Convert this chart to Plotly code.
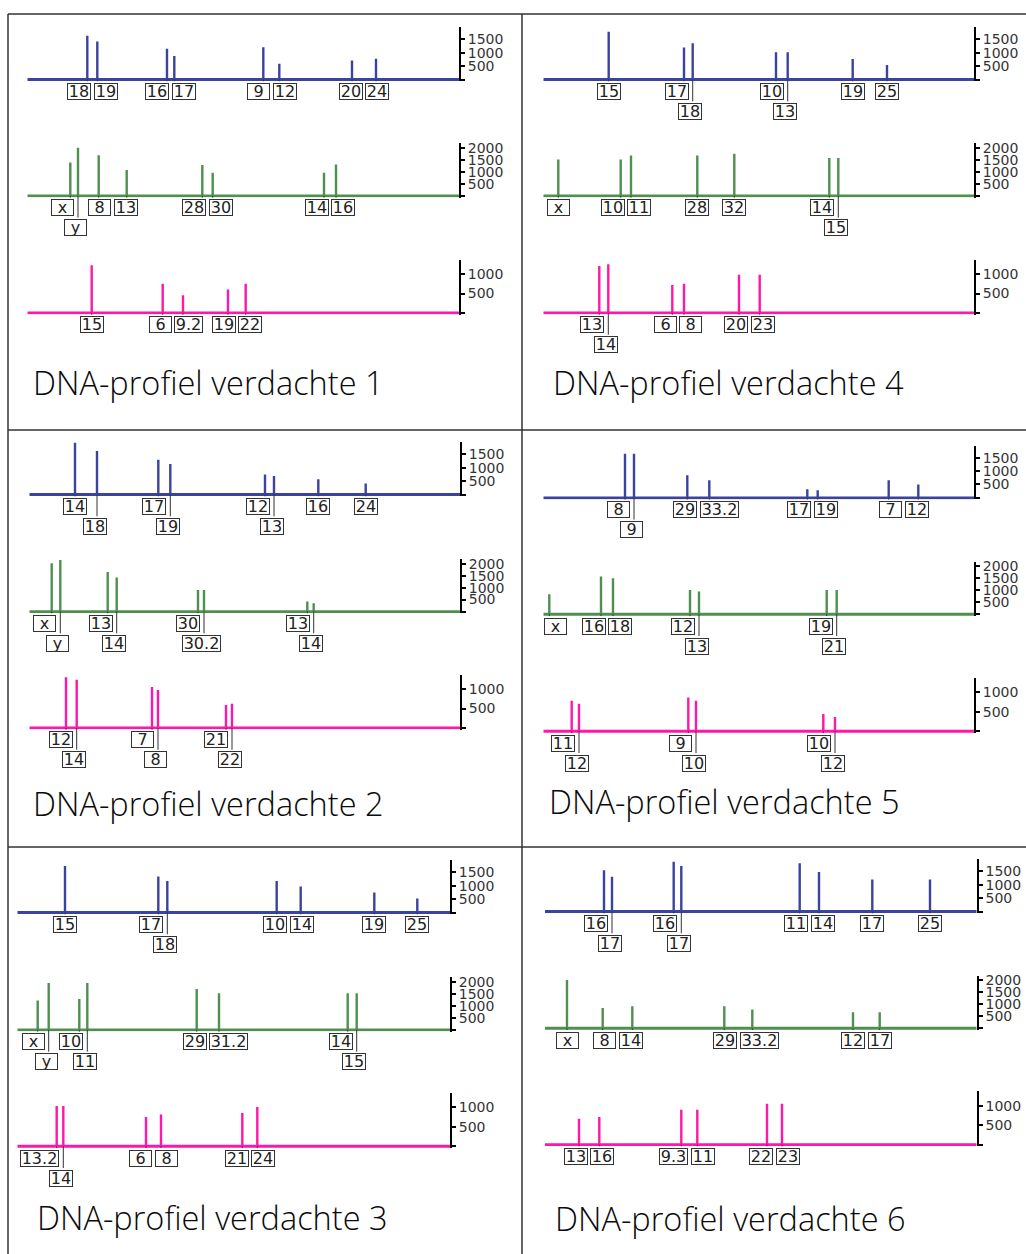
import math
import plotly.graph_objects as go

W, H = 1026, 1254

# ----------------------------------------------------------------- data
# Per suspect and dye: allele labels, fragment position along the trace (size units)
# and peak height (RFU), grouped per locus.
S1_BLUE_ALLELES  = [["18", "19"], ["16", "17"], ["9", "12"], ["20", "24"]]
S1_BLUE_SIZES    = [[60, 70], [139.7, 147], [236, 252], [324.7, 348.7]]
S1_BLUE_HEIGHTS  = [[1640, 1418], [1147, 876], [1210, 592], [715, 777]]
S1_GREEN_ALLELES = [["x", "y"], ["8", "13"], ["28", "30"], ["14", "16"]]
S1_GREEN_SIZES   = [[43, 50.7], [71.4, 99.4], [175, 185.4], [296.7, 308.7]]
S1_GREEN_HEIGHTS = [[1395, 2005], [1700, 1080], [1287, 967], [967, 1311]]
S1_PINK_ALLELES  = [["15"], ["6", "9.2"], ["19", "22"]]
S1_PINK_SIZES    = [[64.4], [135.4, 155.7], [200.7, 218.4]]
S1_PINK_HEIGHTS  = [[1225], [750, 457], [605, 750]]

S2_BLUE_ALLELES  = [["14", "18"], ["17", "19"], ["12", "13"], ["16"], ["24"]]
S2_BLUE_SIZES    = [[45.7, 67.7], [129, 141], [235.7, 244.7], [289], [336.4]]
S2_BLUE_HEIGHTS  = [[1950, 1630], [1305, 1145], [746, 697], [574], [410]]
S2_GREEN_ALLELES = [["x", "y"], ["13", "14"], ["30", "30.2"], ["13", "14"]]
S2_GREEN_SIZES   = [[22.4, 31], [78.4, 87.4], [168.7, 174.7], [278, 284.4]]
S2_GREEN_HEIGHTS = [[2015, 2155], [1655, 1418], [905, 905], [417, 346]]
S2_PINK_ALLELES  = [["12", "14"], ["7", "8"], ["21", "22"]]
S2_PINK_SIZES    = [[36.7, 47.4], [122.7, 128.7], [196.7, 202.7]]
S2_PINK_HEIGHTS  = [[1306, 1239], [1050, 973], [589, 625]]

S3_BLUE_ALLELES  = [["15"], ["17", "18"], ["10", "14"], ["19"], ["25"]]
S3_BLUE_SIZES    = [[47.7], [141, 150], [259.4, 283.4], [357], [400]]
S3_BLUE_HEIGHTS  = [[1742], [1343, 1182], [1182, 970], [746], [522]]
S3_GREEN_ALLELES = [["x", "y"], ["10", "11"], ["29", "31.2"], ["14", "15"]]
S3_GREEN_SIZES   = [[20.4, 31.4], [62, 70], [179.4, 201.7], [330.4, 339.4]]
S3_GREEN_HEIGHTS = [[1222, 1960], [1292, 1960], [1710, 1526], [1526, 1526]]
S3_PINK_ALLELES  = [["13.2", "14"], ["6", "8"], ["21", "24"]]
S3_PINK_SIZES    = [[39.4, 46], [128.7, 143.7], [225, 240]]
S3_PINK_HEIGHTS  = [[1032, 1032], [750, 819], [852, 1006]]

S4_BLUE_ALLELES  = [["15"], ["17", "18"], ["10", "13"], ["19"], ["25"]]
S4_BLUE_SIZES    = [[65.4], [140.7, 149.4], [232.7, 244.4], [309.4], [343.7]]
S4_BLUE_HEIGHTS  = [[1790], [1200, 1357], [1024, 1024], [765], [544]]
S4_GREEN_ALLELES = [["x"], ["10", "11"], ["28"], ["32"], ["14", "15"]]
S4_GREEN_SIZES   = [[15], [77.4, 87.7], [154], [191], [286, 295]]
S4_GREEN_HEIGHTS = [[1520], [1520, 1685], [1685], [1755], [1577, 1577]]
S4_PINK_ALLELES  = [["13", "14"], ["6", "8"], ["20", "23"]]
S4_PINK_SIZES    = [[56, 65], [129, 140.7], [195.7, 216.4]]
S4_PINK_HEIGHTS  = [[1207, 1251], [716, 750], [982, 982]]

S5_BLUE_ALLELES  = [["8", "9"], ["29", "33.2"], ["17", "19"], ["7", "12"]]
S5_BLUE_SIZES    = [[81.7, 90.7], [144, 166], [264, 274.4], [345.4, 375]]
S5_BLUE_HEIGHTS  = [[1652, 1652], [847, 660], [324, 287], [660, 496]]
S5_GREEN_ALLELES = [["x"], ["16", "18"], ["12", "13"], ["19", "21"]]
S5_GREEN_SIZES   = [[6], [57.7, 69.7], [146.7, 155.7], [283.4, 293.4]]
S5_GREEN_HEIGHTS = [[834], [1572, 1500], [1017, 946], [1017, 1017]]
S5_PINK_ALLELES  = [["11", "12"], ["9", "10"], ["10", "12"]]
S5_PINK_SIZES    = [[28.4, 35.7], [145, 152.7], [280, 291.7]]
S5_PINK_HEIGHTS  = [[786, 709], [870, 786], [443, 366]]

S6_BLUE_ALLELES  = [["16", "17"], ["16", "17"], ["11", "14"], ["17"], ["25"]]
S6_BLUE_SIZES    = [[59, 67], [128.7, 136.3], [254.7, 274], [327.3], [385]]
S6_BLUE_HEIGHTS  = [[1545, 1305], [1865, 1705], [1805, 1480], [1194], [1194]]
S6_GREEN_ALLELES = [["x"], ["8", "14"], ["29", "33.2"], ["12", "17"]]
S6_GREEN_SIZES   = [[22], [57.7, 87.3], [179.3, 207.3], [308, 334.7]]
S6_GREEN_HEIGHTS = [[2018], [850, 917], [917, 780], [667, 667]]
S6_PINK_ALLELES  = [["13", "16"], ["9.3", "11"], ["22", "23"]]
S6_PINK_SIZES    = [[34, 54.3], [136.3, 152.3], [222, 237]]
S6_PINK_HEIGHTS  = [[666, 707], [896, 896], [1050, 1050]]

CAPTION_PREFIX = "DNA-profiel verdachte"
SUSPECTS = [1, 2, 3, 4, 5, 6]
DYES = ["blue", "green", "pink"]
Y_TICKS = {"blue": [0, 500, 1000, 1500],
           "green": [0, 500, 1000, 1500, 2000],
           "pink": [0, 500, 1000]}

DATA = {
    (1, "blue"): (S1_BLUE_ALLELES, S1_BLUE_SIZES, S1_BLUE_HEIGHTS),
    (1, "green"): (S1_GREEN_ALLELES, S1_GREEN_SIZES, S1_GREEN_HEIGHTS),
    (1, "pink"): (S1_PINK_ALLELES, S1_PINK_SIZES, S1_PINK_HEIGHTS),
    (2, "blue"): (S2_BLUE_ALLELES, S2_BLUE_SIZES, S2_BLUE_HEIGHTS),
    (2, "green"): (S2_GREEN_ALLELES, S2_GREEN_SIZES, S2_GREEN_HEIGHTS),
    (2, "pink"): (S2_PINK_ALLELES, S2_PINK_SIZES, S2_PINK_HEIGHTS),
    (3, "blue"): (S3_BLUE_ALLELES, S3_BLUE_SIZES, S3_BLUE_HEIGHTS),
    (3, "green"): (S3_GREEN_ALLELES, S3_GREEN_SIZES, S3_GREEN_HEIGHTS),
    (3, "pink"): (S3_PINK_ALLELES, S3_PINK_SIZES, S3_PINK_HEIGHTS),
    (4, "blue"): (S4_BLUE_ALLELES, S4_BLUE_SIZES, S4_BLUE_HEIGHTS),
    (4, "green"): (S4_GREEN_ALLELES, S4_GREEN_SIZES, S4_GREEN_HEIGHTS),
    (4, "pink"): (S4_PINK_ALLELES, S4_PINK_SIZES, S4_PINK_HEIGHTS),
    (5, "blue"): (S5_BLUE_ALLELES, S5_BLUE_SIZES, S5_BLUE_HEIGHTS),
    (5, "green"): (S5_GREEN_ALLELES, S5_GREEN_SIZES, S5_GREEN_HEIGHTS),
    (5, "pink"): (S5_PINK_ALLELES, S5_PINK_SIZES, S5_PINK_HEIGHTS),
    (6, "blue"): (S6_BLUE_ALLELES, S6_BLUE_SIZES, S6_BLUE_HEIGHTS),
    (6, "green"): (S6_GREEN_ALLELES, S6_GREEN_SIZES, S6_GREEN_HEIGHTS),
    (6, "pink"): (S6_PINK_ALLELES, S6_PINK_SIZES, S6_PINK_HEIGHTS),
}

# ----------------------------------------------------------------- layout / style
PANEL_LAYOUT = {
    1: dict(x0=27.3, x1=459.0, base=[76.7, 193.3, 310.7], cap=(30.7, 380.5)),
    2: dict(x0=29.3, x1=460.0, base=[492.7, 610.0, 726.7], cap=(30.7, 802.0)),
    3: dict(x0=17.3, x1=450.0, base=[911.7, 1029.3, 1146.0], cap=(35.0, 1217.5)),
    4: dict(x0=543.3, x1=974.0, base=[76.7, 193.3, 310.7], cap=(550.7, 380.5)),
    5: dict(x0=543.3, x1=974.0, base=[496.0, 612.7, 730.0], cap=(546.7, 800.5)),
    6: dict(x0=545.0, x1=976.7, base=[910.7, 1027.7, 1144.3], cap=(552.7, 1218.0)),
}
# loci whose second label sits on a lower row
STAGGER = {
    (1, "green"): [0],
    (2, "blue"): [0, 1, 2], (2, "green"): [0, 1, 2, 3], (2, "pink"): [0, 1, 2],
    (3, "blue"): [1], (3, "green"): [0, 1, 3], (3, "pink"): [0],
    (4, "blue"): [1, 2], (4, "green"): [4], (4, "pink"): [0],
    (5, "blue"): [0], (5, "green"): [2, 3], (5, "pink"): [0, 1, 2],
    (6, "blue"): [0, 1],
}
COLORS = {"blue": "#3b43a0", "green": "#4f8f4f", "pink": "#ff17a7"}
UNITS_PER_PX = {"blue": 500 / 13.4, "green": 500 / 12.0, "pink": 500 / 19.5}
YRANGE = {"blue": (-62, 1950), "green": (-70, 2200), "pink": (-42, 1370)}

LBL_FS = 16
LBL_FONT = "DejaVu Sans"
BOX_H = 15
GAP0, GAP1 = 3.3, 23.3


def text_w(t):
    em = {".": 0.318, "x": 0.592, "y": 0.592}
    return sum(em.get(c, 0.636) for c in t) * LBL_FS


def inner_w(t):
    return max(21, math.ceil(text_w(t)) + 1)


def outer_w(t):
    return inner_w(t) + 2


def place(alleles, sizes, staggered):
    if len(alleles) == 1:
        w = outer_w(alleles[0])
        return [(max(sizes[0], w / 2 + 1), 0)]
    p1, p2 = sizes
    w1, w2 = outer_w(alleles[0]), outer_w(alleles[1])
    if staggered:
        c1 = min(p1, p2 - 4 - w1 / 2)
        c2 = p2 - 2.5
        res = [(c1, 0), (c2, 1)]
    else:
        m = (p1 + p2) / 2
        res = [(m - 1.25 - w1 / 2, 0), (m + 1.25 + w2 / 2, 0)]
    c1 = max(res[0][0], w1 / 2 + 1)
    return [(c1, res[0][1]), res[1]]


fig = go.Figure()
layout = {}
annotations = []
n = 0
for s in SUSPECTS:
    pl = PANEL_LAYOUT[s]
    L = pl["x1"] - pl["x0"]
    for di, dye in enumerate(DYES):
        n += 1
        xa = "x" if n == 1 else "x%d" % n
        ya = "y" if n == 1 else "y%d" % n
        upp = UNITS_PER_PX[dye]
        r0, r1 = YRANGE[dye]
        base = pl["base"][di]
        bot_px = base + (-r0) / upp
        top_px = base - r1 / upp
        layout["xaxis" if n == 1 else "xaxis%d" % n] = dict(
            domain=[pl["x0"] / W, pl["x1"] / W], range=[0, L], visible=False,
            anchor=ya, fixedrange=True)
        tv = Y_TICKS[dye]
        layout["yaxis" if n == 1 else "yaxis%d" % n] = dict(
            domain=[1 - bot_px / H, 1 - top_px / H], range=[r0, r1], anchor=xa,
            side="right", showline=True, linecolor="black", linewidth=2,
            ticks="outside", ticklen=4, tickwidth=2, tickcolor="black",
            tickvals=tv, ticktext=["" if v == 0 else str(v) for v in tv],
            tickfont=dict(family="DejaVu Sans", size=14, color="#333"),
            showgrid=False, zeroline=False, fixedrange=True)

        alleles, sizes, heights = DATA[(s, dye)]
        # baseline
        fig.add_trace(go.Scatter(x=[0, L], y=[0, 0], mode="lines",
                                 line=dict(color=COLORS[dye], width=2.8),
                                 xaxis=xa, yaxis=ya, hoverinfo="skip", showlegend=False))
        px, py = [], []
        for loc_s, loc_h in zip(sizes, heights):
            for p, h in zip(loc_s, loc_h):
                px += [p, p, None]
                py += [0, h, None]
        fig.add_trace(go.Scatter(x=px, y=py, mode="lines",
                                 line=dict(color=COLORS[dye], width=2.4),
                                 xaxis=xa, yaxis=ya, hoverinfo="skip", showlegend=False))
        stag = STAGGER.get((s, dye), [])
        for li, (loc_a, loc_s) in enumerate(zip(alleles, sizes)):
            for (c, tier), a, p in zip(place(loc_a, loc_s, li in stag), loc_a, loc_s):
                gap = GAP0 if tier == 0 else GAP1
                annotations.append(dict(
                    xref=xa, yref=ya, x=p, y=0, text="", showarrow=True,
                    ax=0, ay=gap, arrowhead=0, arrowwidth=1, arrowcolor="#333",
                    standoff=0, startstandoff=0, font=dict(size=1)))
                annotations.append(dict(
                    xref=xa, yref=ya, x=c, y=0, xanchor="center", yanchor="top",
                    yshift=-gap, text=a, showarrow=False, width=inner_w(a),
                    height=BOX_H, borderpad=0, borderwidth=1, bordercolor="#333",
                    bgcolor="white", align="center", valign="middle",
                    font=dict(family=LBL_FONT, size=LBL_FS, color="#222")))
    cx, cy = pl["cap"]
    annotations.append(dict(xref="paper", yref="paper", x=cx / W, y=1 - cy / H,
                            xanchor="left", yanchor="middle", showarrow=False,
                            text="%s %d" % (CAPTION_PREFIX, s),
                            font=dict(family="Open Sans", size=32.5, weight=300, color="#0a0a0a")))

border = dict(color="#333", width=1.5)
shapes = [
    dict(type="line", xref="paper", yref="paper", x0=8 / W, x1=1, y0=1 - 11 / H, y1=1 - 11 / H, line=border),
    dict(type="line", xref="paper", yref="paper", x0=8 / W, x1=1, y0=1 - 428 / H, y1=1 - 428 / H, line=border),
    dict(type="line", xref="paper", yref="paper", x0=8 / W, x1=1, y0=1 - 846 / H, y1=1 - 846 / H, line=border),
    dict(type="line", xref="paper", yref="paper", x0=8 / W, x1=8 / W, y0=0, y1=1 - 11 / H, line=border),
    dict(type="line", xref="paper", yref="paper", x0=522 / W, x1=522 / W, y0=0, y1=1 - 11 / H, line=border),
]

fig.update_layout(width=W, height=H, autosize=False,
                  margin=dict(l=0, r=0, t=0, b=0),
                  paper_bgcolor="white", plot_bgcolor="white",
                  showlegend=False, annotations=annotations, shapes=shapes, **layout)
fig.write_html("out.html", config={"displayModeBar": False},
               post_script="document.body.style.margin='0';document.body.style.overflow='hidden';")
